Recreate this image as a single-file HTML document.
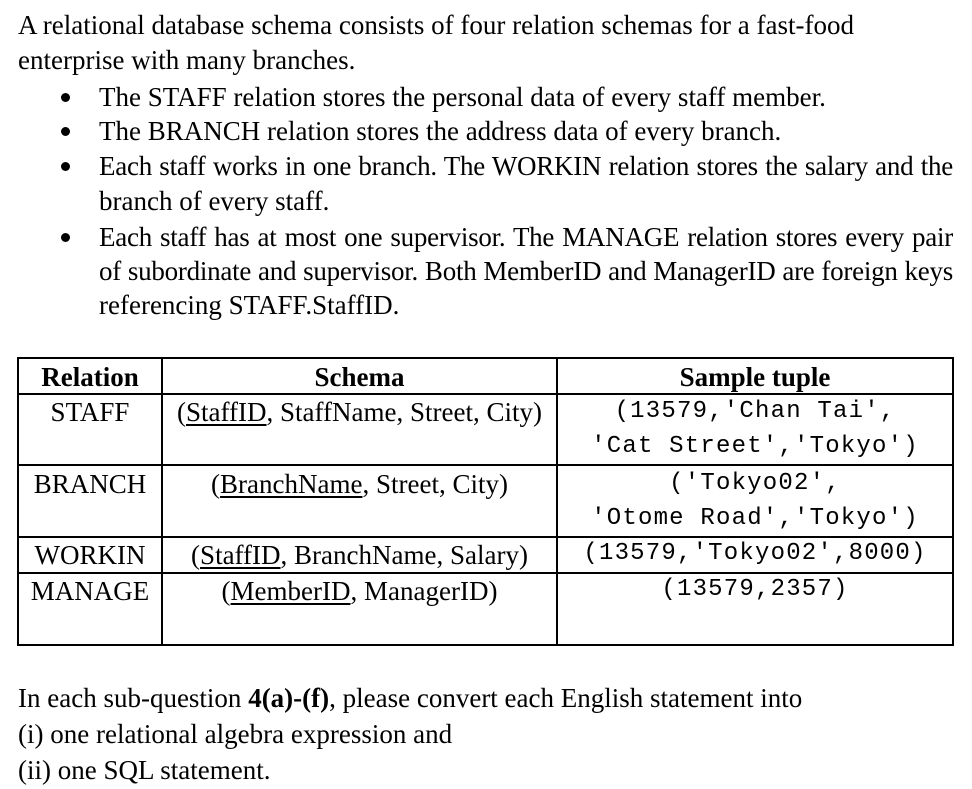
<!DOCTYPE html>
<html><head><meta charset="utf-8"><style>
body{margin:0;width:972px;height:789px;background:#fff;position:relative;overflow:hidden;font-family:"Liberation Serif",serif;color:#000}
.t{position:absolute;font-size:27px;line-height:34px;height:34px;white-space:nowrap}
.j{text-align:justify;text-align-last:justify;letter-spacing:-0.25px}
.m{font-family:"Liberation Mono",monospace;font-size:24px;letter-spacing:1.2px}
.b{position:absolute;width:9px;height:9px;border-radius:50%;background:#000;left:61px}
.hl{position:absolute;background:#000;height:2px}
.vl{position:absolute;background:#000;width:2px}
.c{text-align:center}
u{text-underline-offset:3px}
</style></head><body>
<div class="t" style="left:18px;top:8px">A relational database schema consists of four relation schemas for a fast-food</div>
<div class="t" style="left:18px;top:43px">enterprise with many branches.</div>
<div class="b" style="top:93px"></div>
<div class="t" style="left:99px;top:80px">The STAFF relation stores the personal data of every staff member.</div>
<div class="b" style="top:127px"></div>
<div class="t" style="left:99px;top:114px">The BRANCH relation stores the address data of every branch.</div>
<div class="b" style="top:162px"></div>
<div class="t j" style="left:99px;top:149px;width:854px">Each staff works in one branch. The WORKIN relation stores the salary and the</div>
<div class="t" style="left:99px;top:184px">branch of every staff.</div>
<div class="b" style="top:233px"></div>
<div class="t j" style="left:99px;top:220px;width:854px">Each staff has at most one supervisor. The MANAGE relation stores every pair</div>
<div class="t j" style="left:99px;top:254px;width:854px">of subordinate and supervisor. Both MemberID and ManagerID are foreign keys</div>
<div class="t" style="left:99px;top:288px">referencing STAFF.StaffID.</div>

<div>
<div class="hl" style="left:17px;width:937px;top:357px"></div>
<div class="hl" style="left:17px;width:937px;top:393px"></div>
<div class="hl" style="left:17px;width:937px;top:464px"></div>
<div class="hl" style="left:17px;width:937px;top:536px"></div>
<div class="hl" style="left:17px;width:937px;top:572px"></div>
<div class="hl" style="left:17px;width:937px;top:644px"></div>
<div class="vl" style="left:17px;top:357px;height:289px"></div>
<div class="vl" style="left:161px;top:357px;height:289px"></div>
<div class="vl" style="left:556px;top:357px;height:289px"></div>
<div class="vl" style="left:952px;top:357px;height:289px"></div>

<div class="t c" style="left:18px;width:144px;top:360px;font-weight:bold">Relation</div>
<div class="t c" style="left:162px;width:395px;top:360px;font-weight:bold">Schema</div>
<div class="t c" style="left:557px;width:396px;top:360px;font-weight:bold">Sample tuple</div>

<div class="t c" style="left:18px;width:144px;top:395px">STAFF</div>
<div class="t c" style="left:162px;width:395px;top:395px">(<u>StaffID</u>, StaffName, Street, City)</div>
<div class="t c m" style="left:557px;width:396px;top:395px">(13579,'Chan Tai',</div>
<div class="t c m" style="left:557px;width:396px;top:430px">'Cat Street','Tokyo')</div>

<div class="t c" style="left:18px;width:144px;top:467px">BRANCH</div>
<div class="t c" style="left:162px;width:395px;top:467px">(<u>BranchName</u>, Street, City)</div>
<div class="t c m" style="left:557px;width:396px;top:467px">('Tokyo02',</div>
<div class="t c m" style="left:557px;width:396px;top:502px">'Otome Road','Tokyo')</div>

<div class="t c" style="left:18px;width:144px;top:538px">WORKIN</div>
<div class="t c" style="left:162px;width:395px;top:538px">(<u>StaffID</u>, BranchName, Salary)</div>
<div class="t c m" style="left:557px;width:396px;top:537px">(13579,'Tokyo02',8000)</div>

<div class="t c" style="left:18px;width:144px;top:574px">MANAGE</div>
<div class="t c" style="left:162px;width:395px;top:574px">(<u>MemberID</u>, ManagerID)</div>
<div class="t c m" style="left:557px;width:396px;top:573px">(13579,2357)</div>
</div>

<div class="t" style="left:18px;top:681px">In each sub-question <b>4(a)-(f)</b>, please convert each English statement into</div>
<div class="t" style="left:18px;top:717px">(i) one relational algebra expression and</div>
<div class="t" style="left:18px;top:753px">(ii) one SQL statement.</div>
</body></html>
